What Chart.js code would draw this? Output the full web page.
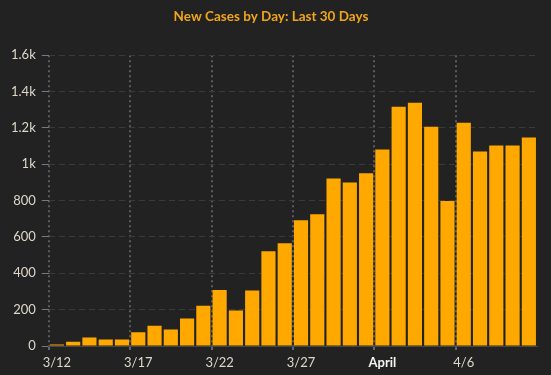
<!DOCTYPE html>
<html lang="en">
<head>
    <meta charset="UTF-8">
    <title>New Cases by Day</title>
    <script src="https://cdn.jsdelivr.net/npm/chart.js"></script>
    <style>
        html, body { margin: 0; padding: 0; background: #222222; }
        #wrap { width: 551px; height: 375px; }
    </style>
</head>
<body>
    <div id="wrap"><canvas id="casesChart" width="551" height="375"></canvas></div>

    <script>
        // Data
        const days = [
            '3/12', '3/13', '3/14', '3/15', '3/16', '3/17', '3/18', '3/19', '3/20', '3/21',
            '3/22', '3/23', '3/24', '3/25', '3/26', '3/27', '3/28', '3/29', '3/30', '3/31',
            'April', '4/2', '4/3', '4/4', '4/5', '4/6', '4/7', '4/8', '4/9', '4/10'
        ];
        const newCases = [
            8, 24, 47, 36, 36, 75, 111, 91, 151, 221,
            308, 195, 305, 522, 566, 692, 725, 922, 900, 950,
            1081, 1317, 1339, 1207, 798, 1229, 1070, 1103, 1103, 1147
        ];
        const labelEvery = 5;
        const yMax = 1600;
        const yStep = 200;

        const barColor = '#ffa800';
        const textColor = '#ddd8c8';

        const ctx = document.getElementById('casesChart').getContext('2d');
        new Chart(ctx, {
            type: 'bar',
            data: {
                labels: days,
                datasets: [{
                    label: 'New Cases',
                    data: newCases,
                    backgroundColor: barColor,
                    borderWidth: 0,
                    barPercentage: 0.87,
                    categoryPercentage: 1.0
                }]
            },
            options: {
                responsive: false,
                animation: false,
                layout: { padding: { left: 5, right: 14, top: 0, bottom: 0 } },
                plugins: {
                    legend: { display: false },
                    tooltip: { enabled: false },
                    title: {
                        display: true,
                        text: 'New Cases by Day: Last 30 Days',
                        color: '#f0a51a',
                        font: { family: 'Lato', size: 13.5, weight: 'bold' },
                        padding: { top: 9, bottom: 30 }
                    }
                },
                scales: {
                    x: {
                        grid: {
                            offset: true,
                            color: c => c.index % labelEvery === 0 ? '#5c5c5c' : 'transparent',
                            lineWidth: 2,
                            tickLength: 4,
                            tickColor: c => c.index % labelEvery === 0 ? '#58667a' : 'transparent',
                            tickBorderDash: []
                        },
                        // in v4 the grid line dash lives under border
                        border: { display: true, color: '#474747', dash: [2, 3] },
                        ticks: {
                            autoSkip: false,
                            maxRotation: 0,
                            padding: 6,
                            color: c => c.index === 20 ? '#f4f4f0' : textColor,
                            font: c => ({ family: 'Lato', size: 13, lineHeight: 1, weight: c.index === 20 ? 'bold' : 'normal' }),
                            callback: (v, i) => i % labelEvery === 0 ? days[i] : ''
                        }
                    },
                    y: {
                        min: 0,
                        max: yMax,
                        grid: {
                            color: '#3a3a3a',
                            tickLength: 7,
                            tickColor: '#7a7a7a',
                            tickBorderDash: []
                        },
                        border: { display: false, dash: [6, 4] },
                        ticks: {
                            stepSize: yStep,
                            padding: 6,
                            color: textColor,
                            font: { family: 'Lato', size: 13 },
                            callback: v => v >= 1000 ? (v / 1000) + 'k' : v
                        }
                    }
                }
            }
        });
    </script>
</body>
</html>
